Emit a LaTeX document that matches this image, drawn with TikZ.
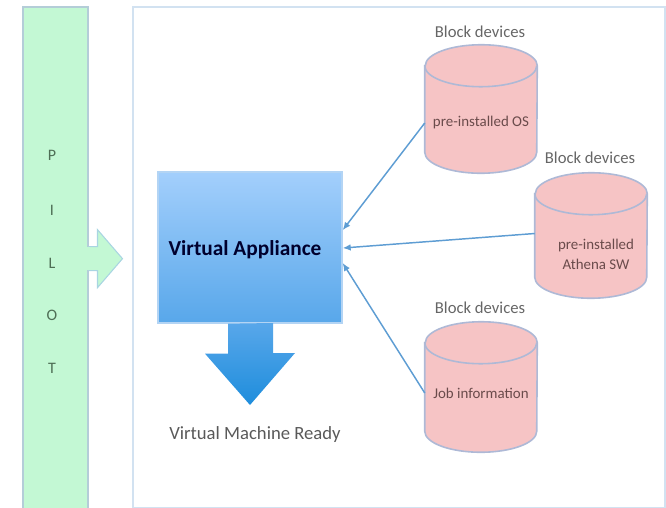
\documentclass[tikz,border=0pt]{standalone}
\usepackage{fontspec}
\setmainfont{Carlito}
\usetikzlibrary{arrows.meta}

\definecolor{mint}{HTML}{C3F8D4}
\definecolor{mintedge}{HTML}{B4CDD8}
\definecolor{arrowedge}{HTML}{A9D5E2}
\definecolor{frameedge}{HTML}{D2E2F1}
\definecolor{vatop}{HTML}{A3CFFC}
\definecolor{vamid}{HTML}{58A7EA}
\definecolor{vatip}{HTML}{1E8DDC}
\definecolor{vaedge}{HTML}{B3D4F4}
\definecolor{drumfill}{HTML}{F6C4C5}
\definecolor{drumedge}{HTML}{AEB9D6}
\definecolor{drumtext}{HTML}{6A4B4B}
\definecolor{link}{HTML}{5E9DD3}
\definecolor{pilottext}{HTML}{4E6E55}

\tikzset{
  lettr/.style={font=\fontsize{12}{14}\selectfont, text=pilottext, inner sep=0pt},
  caption/.style={font=\fontsize{12.5}{14}\selectfont, text=black!60, inner sep=0pt},
  drumlabel/.style={font=\fontsize{11.2}{14}\selectfont, text=drumtext, inner sep=0pt, align=center},
  drumbox/.style={draw=none, minimum width=84pt, inner sep=0pt},
  drum/.style={fill=drumfill, draw=drumedge, line width=1.2pt},
  linkarrow/.style={draw=link, line width=1.1pt, -{Latex[length=6pt,width=5pt]}},
}

% cylinder drawn on a named box node: #1 node name, ellipse radii 42pt x 15.75pt
\newcommand{\drawdrum}[1]{%
  \path[drum] ([yshift=-15.75pt]#1.north west)
    -- ([yshift=15.75pt]#1.south west)
    arc[start angle=180, end angle=360, x radius=42pt, y radius=15.75pt]
    -- ([yshift=-15.75pt]#1.north east)
    arc[start angle=0, end angle=180, x radius=42pt, y radius=15.75pt]
    -- cycle;
  \draw[draw=drumedge, line width=1.2pt] ([yshift=-15.75pt]#1.north west)
    arc[start angle=180, end angle=360, x radius=42pt, y radius=15.75pt];
}

\begin{document}
\begin{tikzpicture}[x=0.75pt, y=-0.75pt]
\useasboundingbox (0,0) rectangle (666,507);

% outer frame
\draw[draw=frameedge, line width=1.5pt] (133,7) rectangle (665,508);

% PILOT bar and its arrow
\node[fill=mint, draw=mintedge, line width=1.5pt, minimum width=48.75pt,
      minimum height=377pt, inner sep=0pt] (pilot) at (55,258) {};
\draw[draw=arrowedge, line width=0.8pt, fill=mint]
  ([yshift=8.5pt]pilot.east) -- ++(9,0) -- ++(0,-17) -- ++(25,29) -- ++(-25,29)
  -- ++(0,-17) -- ++(-9,0);
\fill[mint] ([xshift=-1pt,yshift=8.1pt]pilot.east) rectangle ([xshift=1pt,yshift=-9.1pt]pilot.east);
\node[lettr] (p1) at (52,155) {P};
\node[lettr] (p2) at (52,210) {I};
\node[lettr] (p3) at (52,263) {L};
\node[lettr] (p4) at (52,315) {O};
\node[lettr] (p5) at (52,368) {T};

% virtual appliance box and its down arrow
\node[top color=vatop, bottom color=vamid, draw=vaedge, line width=1pt,
      minimum width=138pt, minimum height=113.25pt, inner sep=0pt] (va) at (250,247.5) {};
\node[font=\fontsize{16}{18}\selectfont\bfseries, text=black!80!blue!90!black, inner sep=0pt]
  (vatext) at (245,250) {Virtual Appliance};
\path[top color=vamid, bottom color=vatip]
  ([xshift=-16.5pt]va.south) -- ++(0,30) -- ++(-23,0) -- (250,405)
  -- ++(45,-52) -- ++(-22,0) -- ++(0,-30) -- cycle;
\node[font=\fontsize{14}{16}\selectfont, text=black!65, inner sep=0pt] (ready) at (255,435)
  {Virtual Machine Ready};

% block devices
\node[drumbox, minimum height=96pt] (d1) at (481,109) {};
\node[drumbox, minimum height=93.75pt] (d2) at (591,235.5) {};
\node[drumbox, minimum height=97.5pt] (d3) at (481,387) {};
\drawdrum{d1}
\drawdrum{d2}
\drawdrum{d3}

\node[caption] (b1) at (480,32) {Block devices};
\node[caption] (b2) at (590,158) {Block devices};
\node[caption] (b3) at (480,308) {Block devices};

\node[drumlabel] (t1) at (481,123) {pre-installed OS};
\node[drumlabel] (t2) at (596,254) {pre-installed\\[1pt]Athena SW};
\node[drumlabel] (t3) at (481,393) {Job information};

% links into the appliance
\coordinate (d1in) at (d1.west |- t1);
\coordinate (d2in) at ([yshift=1.5pt]d2.west);
\coordinate (d3in) at (d3.west |- t3);
\coordinate (va1) at ([yshift=13pt]va.east);
\coordinate (va2) at ([yshift=-0.4pt]va.east);
\coordinate (va3) at ([yshift=-11.6pt]va.east);
\draw[linkarrow] (d1in) -- (va1);
\draw[linkarrow] (d2in) -- (va2);
\draw[linkarrow] (d3in) -- (va3);
\end{tikzpicture}
\end{document}
